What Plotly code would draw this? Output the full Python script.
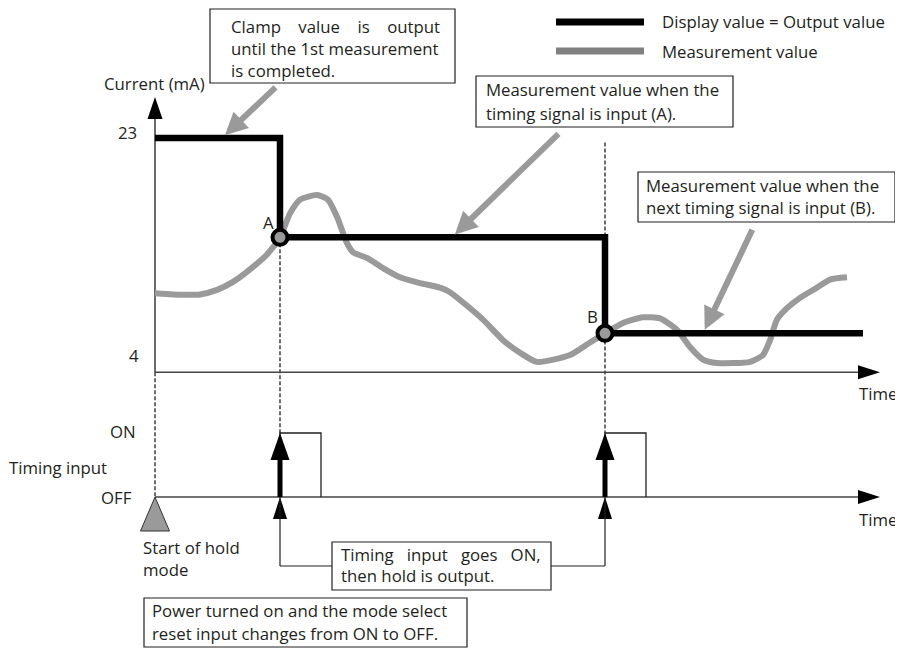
import plotly.graph_objects as go

# the page body adds an 8 px margin, so the figure is 8 px smaller and all
# layout pixel positions below are given in screen coordinates (see px/py)
OFFSET = 8
W, H = 903 - OFFSET, 652 - OFFSET
FONT = "Open Sans, Noto Sans, sans-serif"
INK = "#231f20"
AXIS_C = "#444444"
MEAS_C = "#9a9a9a"

# ---- data ------------------------------------------------------------
# time in arbitrary units, current in mA, timing input 0 = OFF / 1 = ON
T_START = 0.0
T_A = 12.5
T_B = 45.0
T_END = 70.8
T_AXIS_END = 72.5
PULSE_W = 4.1

CLAMP_MA = 23.0
HOLD_A_MA = 14.3
HOLD_B_MA = 5.9
LOW_TICK_MA = 4.0
BASE_MA = 2.5
AXIS_TOP_MA = 26.6
MARK_TOP_MA = 22.6

OFF, ON = 0, 1

MEAS_T = [0, 1.8, 4.5, 6.2, 7.8, 9.5, 11.2, 12.5,
          13.5, 14.5, 16.2, 17.3, 18.2, 19.2, 19.8, 21.2, 22.8, 24.5, 26.5, 28.5, 29.5,
          32.8, 34.8, 36.5, 38.2, 41.5, 43.5, 45.0,
          46.8, 48.8, 50.5, 52.2, 53.5, 54.8, 56.2, 59.5, 60.8, 61.5, 62.2, 63.2,
          64.5, 66.2, 67.5, 69.2]
MEAS_MA = [9.4, 9.3, 9.3, 9.7, 10.4, 11.5, 12.8, 14.3,
           16.4, 17.6, 18.0, 17.6, 16.1, 13.8, 13.0, 12.5, 11.6, 10.8, 10.3, 9.9, 9.5,
           7.1, 5.3, 4.2, 3.4, 4.0, 5.1, 5.9,
           6.8, 7.3, 7.2, 6.2, 4.7, 3.6, 3.3, 3.4, 4.0, 5.3, 7.1, 8.1,
           9.0, 9.9, 10.6, 10.8]

DISP_T = [T_START, T_A, T_A, T_B, T_B, T_END]
DISP_MA = [CLAMP_MA, CLAMP_MA, HOLD_A_MA, HOLD_A_MA, HOLD_B_MA, HOLD_B_MA]

TRIGGERS_T = [T_A, T_B]
TRIGGERS_MA = [HOLD_A_MA, HOLD_B_MA]

# ---- axis ranges (axes themselves are hidden, the diagram draws its own) ----
XR = [-14.7, 74.8]
YR = [-22.004, 34.383]
Y2R = [-2.422, 7.641]


def fx(t):
    return (t - XR[0]) / (XR[1] - XR[0])


def fy(v):
    return (v - YR[0]) / (YR[1] - YR[0])


def fy2(v):
    return (v - Y2R[0]) / (Y2R[1] - Y2R[0])


def px(x):
    return (x - OFFSET) / W


def py(y):
    return 1 - (y - OFFSET) / H


fig = go.Figure()

# current axis + time axis
fig.add_trace(go.Scatter(x=[T_START, T_START], y=[BASE_MA, AXIS_TOP_MA - 1],
                         mode="lines", line=dict(color=AXIS_C, width=1.6)))
fig.add_trace(go.Scatter(x=[T_START, T_AXIS_END - 1], y=[BASE_MA, BASE_MA],
                         mode="lines", line=dict(color=AXIS_C, width=1.5)))

# measurement value
fig.add_trace(go.Scatter(x=MEAS_T, y=MEAS_MA, mode="lines",
                         line=dict(color=MEAS_C, width=6, shape="spline", smoothing=0.6)))
# display value = output value
fig.add_trace(go.Scatter(x=DISP_T, y=DISP_MA, mode="lines",
                         line=dict(color="black", width=6.5)))
fig.add_trace(go.Scatter(x=TRIGGERS_T, y=TRIGGERS_MA, mode="markers",
                         marker=dict(size=15, color=MEAS_C, line=dict(color="black", width=4))))

# timing input panel
fig.add_trace(go.Scatter(x=[T_START, T_AXIS_END - 1], y=[OFF, OFF], yaxis="y2",
                         mode="lines", line=dict(color=AXIS_C, width=1.5)))
for t in TRIGGERS_T:
    fig.add_trace(go.Scatter(x=[t, t, t + PULSE_W, t + PULSE_W], y=[OFF, ON, ON, OFF],
                             yaxis="y2", mode="lines", line=dict(color=INK, width=1.3)))
    fig.add_trace(go.Scatter(x=[t, t], y=[OFF, ON - 0.3], yaxis="y2", mode="lines",
                             line=dict(color="black", width=5)))

shapes = []


def head(xa, ya, yref, path, fill="black", line=None):
    shapes.append(dict(type="path", xref="x", yref=yref, xsizemode="pixel",
                       ysizemode="pixel", xanchor=xa, yanchor=ya, path=path,
                       fillcolor=fill, line=line or dict(width=0), layer="above"))


UP = "M0,0 L-7.5,-22 L7.5,-22 Z"
RIGHT = "M0,0 L-22,7 L-22,-7 Z"
head(T_START, AXIS_TOP_MA, "y", UP)
head(T_AXIS_END, BASE_MA, "y", RIGHT)
head(T_AXIS_END, OFF, "y2", RIGHT)
for t in TRIGGERS_T:
    head(t, ON, "y2", "M0,0 L-9.5,-27 L9.5,-27 Z")
    head(t, OFF, "y2", "M0,0 L-7,-22 L7,-22 Z")
# start of hold mode marker
head(T_START, OFF, "y2", "M0,0 L-14.5,-34 L14.5,-34 Z", fill="#9a9a9a",
     line=dict(color="#333333", width=1))

# dashed guide lines
dash = dict(color=INK, width=1.3, dash="4px,2px")
shapes.append(dict(type="line", xref="x", yref="paper", x0=T_START, x1=T_START,
                   y0=fy(BASE_MA), y1=fy2(OFF), line=dash, layer="below"))
shapes.append(dict(type="line", xref="x", yref="paper", x0=T_A, x1=T_A,
                   y0=fy(HOLD_A_MA), y1=fy2(ON), line=dash, layer="below"))
shapes.append(dict(type="line", xref="x", yref="paper", x0=T_B, x1=T_B,
                   y0=fy(MARK_TOP_MA), y1=fy2(ON), line=dash, layer="below"))

# callout connectors below timing axis
thin = dict(color=INK, width=1.2)
for t, bx in [(T_A, 332), (T_B, 551)]:
    shapes.append(dict(type="line", xref="x", yref="paper", x0=t, x1=t,
                       y0=py(566), y1=fy2(OFF), line=thin))
    shapes.append(dict(type="line", xref="paper", yref="paper", x0=fx(t), x1=px(bx),
                       y0=py(566), y1=py(566), line=thin))

# text boxes
BOXES = [(210, 9, 455, 83), (476, 76, 733, 127), (638, 172, 895, 222),
         (332, 542, 551, 590), (144, 598, 467, 647)]
for x0, y0, x1, y1 in BOXES:
    shapes.append(dict(type="rect", xref="paper", yref="paper", x0=px(x0), x1=px(x1),
                       y0=py(y0), y1=py(y1), line=dict(color=INK, width=1.2),
                       fillcolor="white", layer="above"))

# legend
shapes.append(dict(type="line", xref="paper", yref="paper", x0=px(556), x1=px(644),
                   y0=py(22), y1=py(22), line=dict(color="black", width=7)))
shapes.append(dict(type="line", xref="paper", yref="paper", x0=px(556), x1=px(644),
                   y0=py(51), y1=py(51), line=dict(color="#808080", width=7)))

ann = []


def text(s, x, y, anchor="left"):
    ann.append(dict(text=s, x=px(x), y=py(y), xref="paper", yref="paper",
                    xanchor=anchor, yanchor="middle", showarrow=False))


GAP4 = "&nbsp;" * 3 + " "
GAP3 = "&nbsp;" * 3
text("Display value = Output value", 660, 22)
text("Measurement value", 660, 51)
text(GAP4.join(["Clamp", "value", "is", "output"]), 229, 26)
text("until the 1st measurement", 229, 48)
text("is completed.", 229, 70)
text("Measurement value when the", 484, 90)
text("timing signal is input (A).", 484, 113)
text("Measurement value when the", 644, 185)
text("next timing signal is input (B).", 644, 208)
text(GAP3.join(["Timing", "input", "goes", "ON,"]), 339, 554)
text("then hold is output.", 339, 575)
text("Power turned on and the mode select", 150, 610)
text("reset input changes from ON to OFF.", 150, 633)
text("Current (mA)", 102, 83)
text("Time", 857, 393)
text("Time", 857, 519)
text("Timing input", 7, 467)
text("Start of hold", 141, 547)
text("mode", 141, 569)

# tick labels tied to the data levels
ann.append(dict(text="23", x=px(139), y=CLAMP_MA, xref="paper", yref="y", yshift=6,
                xanchor="right", yanchor="middle", showarrow=False))
ann.append(dict(text="4", x=px(141), y=LOW_TICK_MA, xref="paper", yref="y",
                xanchor="right", yanchor="middle", showarrow=False))
ann.append(dict(text="ON", x=px(138), y=ON, xref="paper", yref="y2", yshift=2,
                xanchor="right", yanchor="middle", showarrow=False))
ann.append(dict(text="OFF", x=px(134), y=OFF, xref="paper", yref="y2",
                xanchor="right", yanchor="middle", showarrow=False))
ann.append(dict(text="A", x=T_A, y=HOLD_A_MA, xref="x", yref="y", xshift=-12, yshift=15,
                showarrow=False))
ann.append(dict(text="B", x=T_B, y=HOLD_B_MA, xref="x", yref="y", xshift=-13, yshift=17,
                showarrow=False))

# grey callout arrows
for t, v, ax, ay in [(6.7, CLAMP_MA, 55, -52), (29.7, HOLD_A_MA, 108, -105),
                     (54.8, HOLD_B_MA, 50, -105)]:
    ann.append(dict(text="", x=t, y=v, xref="x", yref="y", ax=ax, ay=ay,
                    showarrow=True, arrowhead=2, arrowsize=0.75, arrowwidth=6,
                    arrowcolor="#9a9a9a", standoff=4))

fig.update_layout(
    width=W, height=H,
    margin=dict(l=0, r=0, t=0, b=0),
    paper_bgcolor="white", plot_bgcolor="white",
    showlegend=False,
    font=dict(family=FONT, size=16.8, color=INK),
    xaxis=dict(range=XR, visible=False, domain=[0, 1]),
    yaxis=dict(range=YR, visible=False, domain=[0, 1]),
    yaxis2=dict(range=Y2R, visible=False, overlaying="y"),
    shapes=shapes,
    annotations=ann,
)

fig.write_html("out.html")
